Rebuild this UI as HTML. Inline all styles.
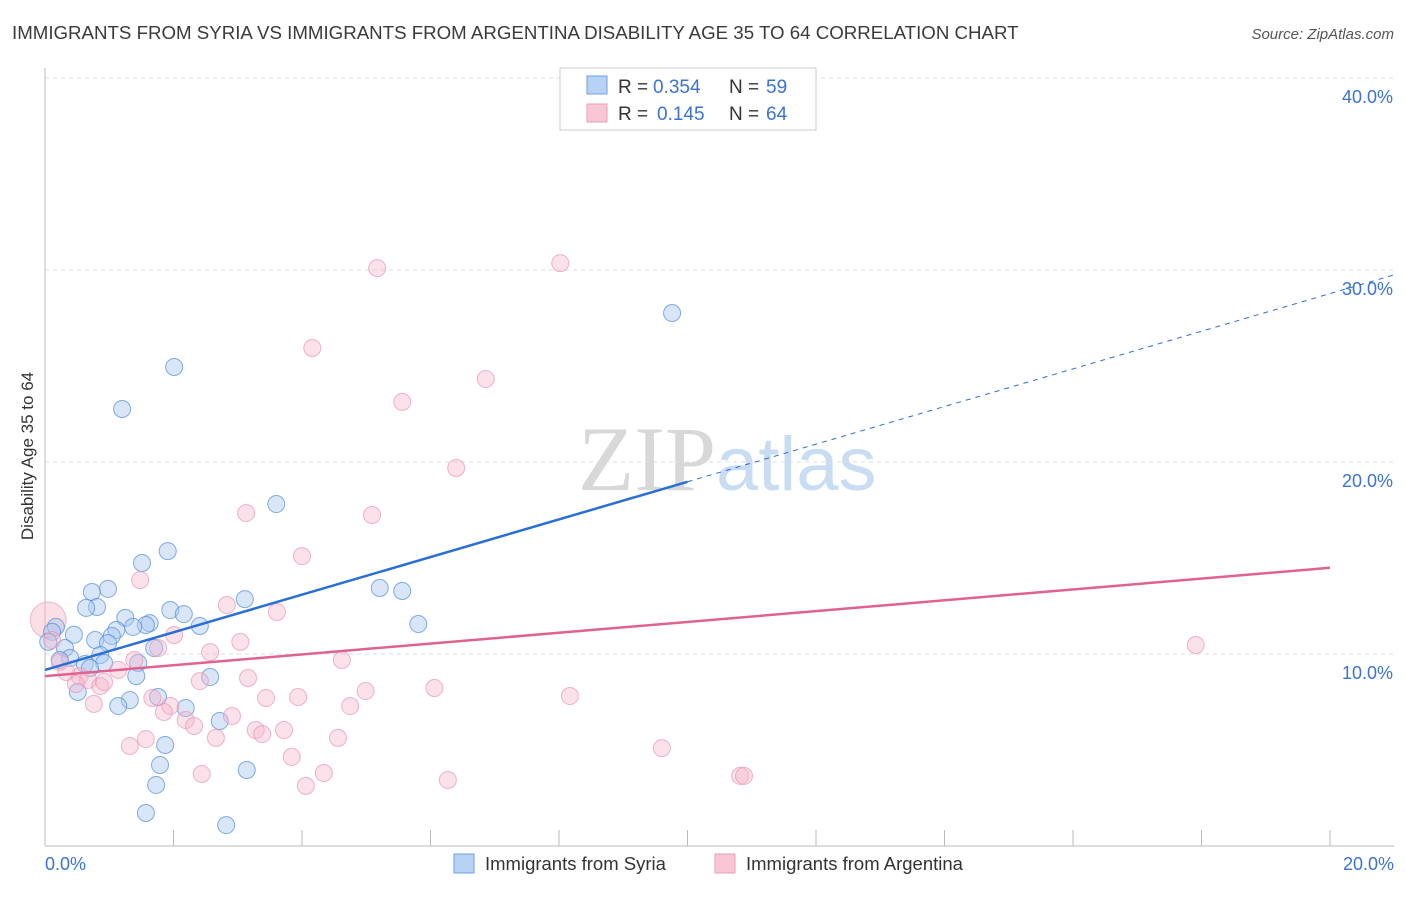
<!DOCTYPE html>
<html><head><meta charset="utf-8"><style>
body{margin:0;background:#fff;font-family:"Liberation Sans",sans-serif}
</style></head><body>
<svg width="1406" height="892" xmlns="http://www.w3.org/2000/svg" id="chart">
<text x="12" y="39" font-size="18.7" fill="#3a3a3a">IMMIGRANTS FROM SYRIA VS IMMIGRANTS FROM ARGENTINA DISABILITY AGE 35 TO 64 CORRELATION CHART</text>
<text x="1394" y="39" font-size="15" fill="#555" font-style="italic" text-anchor="end">Source: ZipAtlas.com</text>
<text x="716" y="490" font-size="92" fill="#d8d8d8" text-anchor="end" font-family="Liberation Serif,serif">ZIP</text>
<text x="716" y="490" font-size="76" fill="#c8dcf2">atlas</text>
<g id="grid"></g>
<line x1="45" y1="68" x2="45" y2="846" stroke="#bbb"/>
<line x1="45" y1="846" x2="1394" y2="846" stroke="#bbb"/>
<g id="ticks"></g>
<g id="pts"></g>
<g id="lines"></g>
<text x="33" y="456" font-size="17" fill="#333" text-anchor="middle" transform="rotate(-90 33 456)">Disability Age 35 to 64</text>
<text x="45" y="870" font-size="18" fill="#3a73d4">0.0%</text>
<text x="1394" y="870" font-size="18" fill="#3a73d4" text-anchor="end">20.0%</text>
<g>
<rect x="560" y="68" width="256" height="62" fill="#fff" stroke="#ccc"/>
<rect x="587" y="76" width="20" height="18" fill="#b7d2f5" stroke="#6fa0e0"/>
<rect x="587" y="104" width="20" height="18" fill="#f9c6d5" stroke="#eaa0b8"/>
<text x="618" y="93" font-size="19" fill="#333">R =</text>
<text x="653" y="93" font-size="19" fill="#3a73d4">0.354</text>
<text x="729" y="93" font-size="19" fill="#333">N =</text>
<text x="766" y="93" font-size="19" fill="#3a73d4">59</text>
<text x="618" y="120" font-size="19" fill="#333">R =</text>
<text x="657" y="120" font-size="19" fill="#3a73d4">0.145</text>
<text x="729" y="120" font-size="19" fill="#333">N =</text>
<text x="766" y="120" font-size="19" fill="#3a73d4">64</text>
</g>
<g>
<rect x="454" y="854" width="20" height="19" fill="#b7d2f5" stroke="#6fa0e0"/>
<text x="485" y="870" font-size="18.5" fill="#333">Immigrants from Syria</text>
<rect x="715" y="854" width="20" height="19" fill="#f9c6d5" stroke="#eaa0b8"/>
<text x="746" y="870" font-size="18.5" fill="#333">Immigrants from Argentina</text>
</g>
</svg>
<script>
const yTicks=[10,20,30,40];
const yTickLabels=["10.0%","20.0%","30.0%","40.0%"];
const xTicks=[2,4,6,8,10,12,14,16,18,20];
const syriaX=[9.76,2.01,1.20,3.60,1.91,1.51,0.98,0.73,5.21,5.56,3.11,0.81,0.64,1.95,2.16,1.25,5.81,1.63,1.57,1.37,1.11,2.41,0.17,0.11,0.45,1.04,0.78,0.98,0.31,1.70,0.05,0.86,0.39,0.62,1.45,0.92,0.70,0.23,1.42,2.57,0.51,1.32,1.14,1.76,2.19,2.72,1.87,1.79,1.73,3.14,1.57,2.82];
const syriaY=[27.76,24.95,22.76,17.81,15.36,14.74,13.39,13.23,13.44,13.28,12.86,12.45,12.40,12.29,12.08,11.88,11.56,11.61,11.51,11.41,11.25,11.46,11.41,11.15,11.0,10.94,10.73,10.57,10.31,10.31,10.63,9.95,9.79,9.48,9.53,9.53,9.27,9.69,8.85,8.80,8.02,7.60,7.29,7.76,7.19,6.51,5.26,4.22,3.18,3.96,1.72,1.09];
const argX=[8.02,5.17,4.16,6.86,5.56,6.40,3.13,5.09,4.0,1.48,2.83,3.61,17.91,3.04,2.01,1.76,2.57,4.62,1.39,1.14,3.16,0.23,0.33,0.54,0.67,0.48,0.86,0.92,2.41,6.06,4.99,8.17,3.44,3.94,1.67,0.76,1.95,4.75,1.85,2.91,2.19,2.32,3.28,3.72,3.38,2.66,4.56,1.57,1.32,9.60,3.84,4.34,2.44,10.82,10.88,6.27,4.06,0.11];
const argY=[30.36,30.10,25.94,24.32,23.13,19.69,17.34,17.24,15.10,13.85,12.55,12.19,10.47,10.63,10.99,10.31,10.10,9.69,9.69,9.17,8.75,9.58,9.06,8.85,8.65,8.44,8.33,8.54,8.59,8.23,8.07,7.81,7.71,7.76,7.71,7.40,7.29,7.29,6.98,6.77,6.56,6.25,6.04,6.04,5.83,5.63,5.63,5.57,5.21,5.10,4.64,3.80,3.75,3.65,3.65,3.44,3.13,10.73];
const bigPoint=[0.05,11.77];
const syriaFit=[9.17,0.98];
const argFit=[8.85,0.282];
const NS="http://www.w3.org/2000/svg";
const sx=v=>45+v*64.25, sy=v=>846-v*19.2;
function mk(tag,attrs,parent){const e=document.createElementNS(NS,tag);for(const k in attrs)e.setAttribute(k,attrs[k]);document.getElementById(parent).appendChild(e);return e;}
yTicks.forEach((t,i)=>{
 const l=mk('line',{x1:45,x2:1394,y1:sy(t),y2:sy(t),stroke:'#ddd','stroke-dasharray':'4,4'},'grid');
 
 
 const tx=mk('text',{x:1393,y:sy(t)+25,'font-size':18,fill:'#3a73d4','text-anchor':'end'},'grid');
 tx.textContent=yTickLabels[i];
 
 
});
const topGrid=mk('line',{x1:45,x2:1394,y1:78,y2:78,stroke:'#ddd','stroke-dasharray':'4,4'},'grid');


xTicks.forEach(t=>{
 const l=mk('line',{x1:sx(t),x2:sx(t),y1:830,y2:846,stroke:'#bbb'},'ticks');
 
 
});
const big=mk('circle',{cx:sx(bigPoint[0]),cy:sy(bigPoint[1]),r:18,fill:'rgba(246,181,200,0.45)',stroke:'rgba(234,160,184,0.7)'},'pts');


syriaX.forEach((x,i)=>{
 const c=mk('circle',{cx:sx(x),cy:sy(syriaY[i]),r:8.5,fill:'rgba(168,200,240,0.45)',stroke:'rgba(80,140,220,0.7)','stroke-width':1},'pts');
 
 
});
argX.forEach((x,i)=>{
 const c=mk('circle',{cx:sx(x),cy:sy(argY[i]),r:8.5,fill:'rgba(246,181,200,0.4)',stroke:'rgba(234,150,180,0.7)','stroke-width':1},'pts');
 
 
});
const b1=mk('line',{x1:sx(0),y1:sy(syriaFit[0]),x2:sx(10),y2:sy(syriaFit[0]+10*syriaFit[1]),stroke:'#2a6fd6','stroke-width':2.5},'lines');


const b2=mk('line',{x1:sx(10),y1:sy(syriaFit[0]+10*syriaFit[1]),x2:sx(21),y2:sy(syriaFit[0]+21*syriaFit[1]),stroke:'#2a6fd6','stroke-width':1,'stroke-dasharray':'5,5'},'lines');


const p1=mk('line',{x1:sx(0),y1:sy(argFit[0]),x2:sx(20),y2:sy(argFit[0]+20*argFit[1]),stroke:'#e0628f','stroke-width':2.5},'lines');


</script>
</body></html>
